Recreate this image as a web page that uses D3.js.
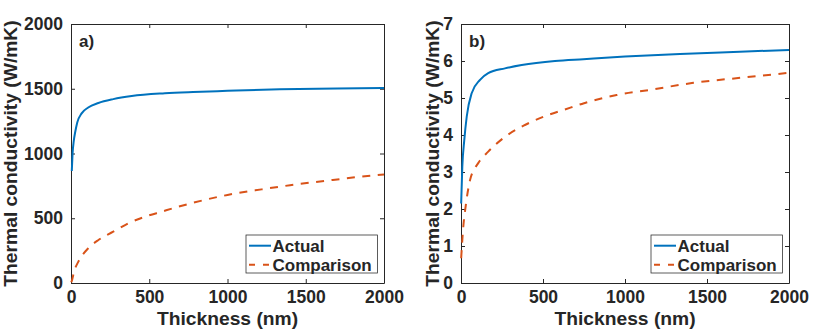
<!DOCTYPE html>
<html>
<head>
<meta charset="utf-8">
<script src="https://cdn.jsdelivr.net/npm/d3@7"></script>
<style>
  body { margin: 0; background: #fff; }
  svg text { font-family: "Liberation Sans", Arial, Helvetica, sans-serif; font-weight: bold; fill: #262626; }
</style>
</head>
<body>
<svg id="chart" width="830" height="330"></svg>
<script>
// thickness (nm) / conductivity (W/mK)
var actualA = [[5, 865], [10, 1000], [18, 1100], [26, 1160], [40, 1240], [68, 1310], [110, 1355], [175, 1390],
    [270, 1420], [388, 1444], [600, 1465], [780, 1475], [1000, 1484], [1335, 1496], [1700, 1502], [2000, 1506]];
var comparisonA = [[1, 5], [4, 12], [20, 90], [47, 165], [110, 268], [175, 332], [270, 396], [366, 461], [473, 512],
    [580, 551], [686, 589], [782, 620], [1000, 680], [1218, 723], [1400, 755], [1634, 790], [1800, 814], [2000, 838]];
var actualB = [[1, 2.15], [8, 3.14], [20, 3.86], [35, 4.5], [65, 5.13], [116, 5.49], [166, 5.67], [268, 5.8],
    [370, 5.89], [573, 6.0], [746, 6.05], [1000, 6.12], [1335, 6.19], [1700, 6.25], [2000, 6.3]];
var comparisonB = [[1, 0.67], [14, 1.52], [28, 2.06], [55, 2.78], [105, 3.24], [166, 3.55], [268, 3.95], [390, 4.27],
    [512, 4.51], [634, 4.69], [750, 4.86], [949, 5.08], [1152, 5.22], [1417, 5.41], [1713, 5.55], [2000, 5.68]];

var xTicks = [0, 500, 1000, 1500, 2000];
var yTicksA = [0, 500, 1000, 1500, 2000];
var yTicksB = [0, 1, 2, 3, 4, 5, 6, 7];
var seriesNames = ["Actual", "Comparison"];

var colors = { actual: "#0072BD", comparison: "#D95319", axis: "#262626" };

var svg = d3.select("#chart");

function drawPanel(p) {
    var x = d3.scaleLinear().domain([0, 2000]).range([p.left, p.right]);
    var y = d3.scaleLinear().domain([0, p.yMax]).range([p.bottom, p.top]);
    var g = svg.append("g");
    var tickLen = 4;

    // box axes, ticks pointing inward
    g.append("g").attr("transform", "translate(0," + p.bottom + ")")
        .call(d3.axisBottom(x).tickValues(xTicks).tickSizeInner(-tickLen).tickSizeOuter(0).tickPadding(8).tickFormat(d3.format("d")));
    g.append("g").attr("transform", "translate(0," + p.top + ")")
        .call(d3.axisTop(x).tickValues(xTicks).tickSizeInner(-tickLen).tickSizeOuter(0).tickFormat(""));
    g.append("g").attr("transform", "translate(" + p.left + ",0)")
        .call(d3.axisLeft(y).tickValues(p.yTicks).tickSizeInner(-tickLen).tickSizeOuter(0).tickPadding(8).tickFormat(d3.format("d")));
    g.append("g").attr("transform", "translate(" + p.right + ",0)")
        .call(d3.axisRight(y).tickValues(p.yTicks).tickSizeInner(-tickLen).tickSizeOuter(0).tickFormat(""));

    g.selectAll(".domain").attr("stroke", colors.axis).attr("stroke-width", 1);
    g.selectAll(".tick line").attr("stroke", colors.axis);
    g.selectAll(".tick text").style("font-size", "17.5px").attr("fill", colors.axis);

    var line = d3.line()
        .x(function (d) { return x(d[0]); })
        .y(function (d) { return y(d[1]); })
        .curve(d3.curveMonotoneX);

    g.append("path").datum(p.comparison)
        .attr("d", line)
        .attr("fill", "none")
        .attr("stroke", colors.comparison)
        .attr("stroke-width", 2)
        .attr("stroke-dasharray", "8,7.5");

    g.append("path").datum(p.actual)
        .attr("d", line)
        .attr("fill", "none")
        .attr("stroke", colors.actual)
        .attr("stroke-width", 2);

    // panel tag
    g.append("text").attr("x", p.left + 8).attr("y", p.top + 23)
        .style("font-size", "17px").text(p.tag);

    // axis labels
    g.append("text")
        .attr("x", (p.left + p.right) / 2).attr("y", p.bottom + 42)
        .attr("text-anchor", "middle")
        .style("font-size", "19.25px")
        .text("Thickness (nm)");
    g.append("text")
        .attr("transform", "translate(" + p.labelX + "," + ((p.top + p.bottom) / 2) + ") rotate(-90)")
        .attr("text-anchor", "middle")
        .style("font-size", "19.25px")
        .text("Thermal conductivity (W/mK)");

    // legend
    var lg = g.append("g").attr("transform", "translate(" + (p.right - 138) + "," + (p.bottom - 48) + ")");
    lg.append("rect").attr("x", 0).attr("y", 0).attr("width", 131.5).attr("height", 38)
        .attr("fill", "#fff").attr("stroke", colors.axis).attr("stroke-width", 0.75);
    var styles = [{ c: colors.actual, dash: null }, { c: colors.comparison, dash: "6,8" }];
    seriesNames.forEach(function (name, i) {
        var yy = 10.7 + i * 19;
        lg.append("line").attr("x1", 3).attr("x2", 25).attr("y1", yy).attr("y2", yy)
            .attr("stroke", styles[i].c).attr("stroke-width", 2)
            .attr("stroke-dasharray", styles[i].dash);
        lg.append("text").attr("x", 26.5).attr("y", yy + 6)
            .style("font-size", "17px").text(name);
    });
}

drawPanel({ left: 71, right: 384, top: 24, bottom: 283, yMax: 2000, yTicks: yTicksA,
    actual: actualA, comparison: comparisonA, tag: "a)", labelX: 16.5 });
drawPanel({ left: 461, right: 789, top: 24, bottom: 283, yMax: 7, yTicks: yTicksB,
    actual: actualB, comparison: comparisonB, tag: "b)", labelX: 438.5 });
</script>
</body>
</html>
